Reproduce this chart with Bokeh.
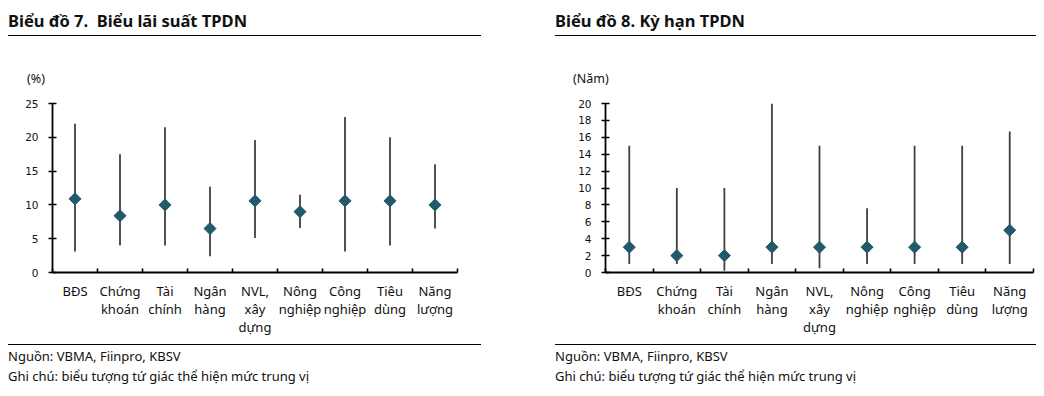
import math
from bokeh.plotting import figure
from bokeh.models import FixedTicker, Div, Range1d
from bokeh.layouts import row, column
from bokeh.embed import file_html
from bokeh.resources import INLINE

# ---- data ----
categories = ["BĐS", "Chứng\nkhoán", "Tài\nchính", "Ngân\nhàng", "NVL,\nxây\ndựng",
              "Nông\nnghiệp", "Công\nnghiệp", "Tiêu\ndùng", "Năng\nlượng"]
rate_low = [3.1, 4.0, 4.0, 2.4, 5.1, 6.6, 3.1, 4.0, 6.5]
rate_high = [22.0, 17.5, 21.5, 12.7, 19.6, 11.5, 23.0, 20.0, 16.0]
rate_median = [10.9, 8.4, 10.0, 6.5, 10.6, 9.0, 10.6, 10.6, 10.0]
rate_ticks = [0, 5, 10, 15, 20, 25]

term_low = [1.0, 1.0, 0.2, 1.0, 0.5, 1.0, 1.0, 1.0, 1.0]
term_high = [15.0, 10.0, 10.0, 20.0, 15.0, 7.6, 15.0, 15.0, 16.7]
term_median = [3.0, 2.0, 2.0, 3.0, 3.0, 3.0, 3.0, 3.0, 5.0]
term_ticks = [0, 2, 4, 6, 8, 10, 12, 14, 16, 18, 20]

title_left = "Biểu đồ 7.&nbsp;&nbsp;Biểu lãi suất TPDN"
title_right = "Biểu đồ 8. Kỳ hạn TPDN"
unit_left = "(%)"
unit_right = "(Năm)"
source_text = "Nguồn: VBMA, Fiinpro, KBSV"
note_text = "Ghi chú: biểu tượng tứ giác thể hiện mức trung vị"

DIAMOND = "#215a6a"
WHISKER = "#404040"
FONT = "Noto Sans"


def panel(width, border_left, border_right, low, high, median, ticks):
    n = len(categories)
    xs = [i + 0.5 for i in range(n)]
    p = figure(width=width, height=252, output_backend="svg", toolbar_location=None,
               x_range=Range1d(0, n), y_range=Range1d(ticks[0], ticks[-1]),
               min_border_left=border_left, min_border_right=border_right,
               min_border_top=13, min_border_bottom=70, margin=(0, 0, 0, 0))
    p.outline_line_color = None
    p.xgrid.grid_line_color = None
    p.ygrid.grid_line_color = None
    p.background_fill_color = "white"
    p.border_fill_color = "white"

    xa = p.xaxis[0]
    xa.ticker = FixedTicker(ticks=xs, minor_ticks=list(range(n + 1)))
    xa.major_label_overrides = {x: c for x, c in zip(xs, categories)}
    xa.major_tick_line_color = None
    xa.minor_tick_in = 4
    xa.minor_tick_out = 0
    xa.minor_tick_line_color = "black"
    xa.minor_tick_line_width = 1.6
    xa.axis_line_color = "black"
    xa.axis_line_width = 1.8
    xa.major_label_text_font = FONT
    xa.major_label_text_font_size = "13px"
    xa.major_label_text_color = "#111111"
    xa.major_label_text_line_height = 1.0
    xa.major_label_standoff = 3

    ya = p.yaxis[0]
    ya.ticker = FixedTicker(ticks=ticks, minor_ticks=[])
    ya.major_tick_in = 4
    ya.major_tick_out = 4
    ya.major_tick_line_width = 1.6
    ya.major_tick_line_color = "black"
    ya.minor_tick_line_color = None
    ya.axis_line_color = "black"
    ya.axis_line_width = 1.8
    ya.major_label_text_font = "DejaVu Sans"
    ya.major_label_text_font_size = "10.5px"
    ya.major_label_text_color = "#111111"
    ya.major_label_standoff = 10

    p.segment(x0=xs, y0=low, x1=xs, y1=high, line_color=WHISKER, line_width=1.8)
    p.scatter(x=xs, y=median, marker="square", size=8.5, angle=math.pi / 4,
              fill_color=DIAMOND, line_color=DIAMOND, line_width=1)
    return p


def title_div(text, unit, unit_pad, width, rule_w):
    html = (f'<div style="width:{rule_w}px;height:25px;border-bottom:1.5px solid #000;'
            f'font-family:\'{FONT}\';font-weight:bold;font-size:16.5px;line-height:22px;'
            f'padding-top:2px;box-sizing:content-box;color:#111;white-space:nowrap">{text}</div>'
            f'<div style="margin-top:35px;padding-left:{unit_pad}px;font-family:\'{FONT}\';'
            f'font-size:12.5px;line-height:16px;color:#111;white-space:nowrap">{unit}</div>')
    return Div(text=html, width=width, height=82, margin=(0, 0, 0, 0))


def foot_div(width, rule_w):
    html = (f'<div style="width:{rule_w}px;height:3px;border-bottom:1.2px solid #000"></div>'
            f'<div style="padding-top:2px;font-family:\'{FONT}\';font-size:13px;line-height:19.5px;color:#111;'
            f'white-space:nowrap">{source_text}<br>{note_text}</div>')
    return Div(text=html, width=width, height=46, margin=(0, 0, 0, 0))


left = panel(547, 44, 98, rate_low, rate_high, rate_median, rate_ticks)
right = panel(481, 50, 3, term_low, term_high, term_median, term_ticks)

layout = column(
    row(title_div(title_left, unit_left, 19, 547, 473),
        title_div(title_right, unit_right, 18, 481, 481), spacing=0),
    row(left, right, spacing=0),
    row(foot_div(547, 473), foot_div(481, 481), spacing=0),
    spacing=0, margin=(8, 0, 0, 8),
)

open("out.html", "w").write(file_html(layout, INLINE))
